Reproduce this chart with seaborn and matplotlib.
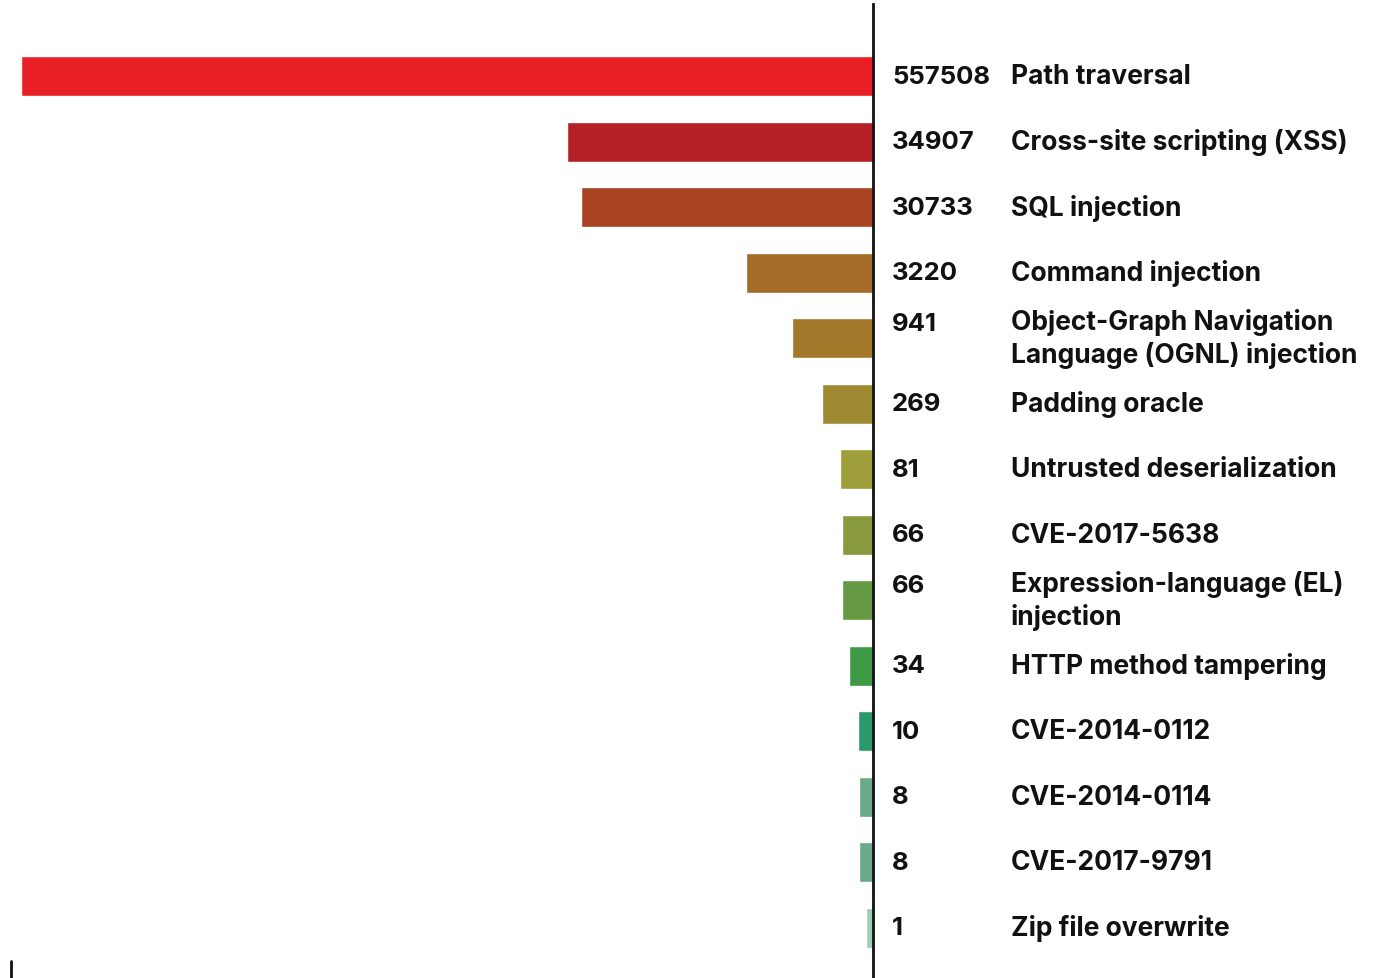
import numpy as np
import pandas as pd
import matplotlib
matplotlib.use("Agg")
import matplotlib.pyplot as plt
import matplotlib.transforms as mtransforms
from matplotlib.lines import Line2D
import seaborn as sns

attack_types = [
    "Path traversal",
    "Cross-site scripting (XSS)",
    "SQL injection",
    "Command injection",
    "Object-Graph Navigation\nLanguage (OGNL) injection",
    "Padding oracle",
    "Untrusted deserialization",
    "CVE-2017-5638",
    "Expression-language (EL)\ninjection",
    "HTTP method tampering",
    "CVE-2014-0112",
    "CVE-2014-0114",
    "CVE-2017-9791",
    "Zip file overwrite",
]
counts = [557508, 34907, 30733, 3220, 941, 269, 81, 66, 66, 34, 10, 8, 8, 1]
bar_colors = [
    "#E81F25", "#B51F26", "#A84324", "#A46B29", "#A3782B", "#A08A31", "#9E9E3A",
    "#89993D", "#659943", "#3E9A47", "#2A9A6A", "#6AAA8A", "#6AAA8A", "#9FCDB4",
]

df = pd.DataFrame({"attack": attack_types, "count": counts})

sns.set_theme(style="white")
plt.rcParams["font.family"] = ["Inter", "DejaVu Sans"]

W, H = 1379, 979
fig = plt.figure(figsize=(W / 100, H / 100), dpi=100)
ax = fig.add_axes([21 / W, 0, (872.5 - 21) / W, 974 / H])

sns.barplot(data=df, x="count", y="attack", hue="attack", palette=bar_colors,
            orient="h", width=0.61, legend=False, ax=ax, saturation=1)

# bar lengths in the original are compressed, roughly a power scale
p = 0.37
ax.set_xscale("function", functions=(lambda v: np.sign(v) * np.abs(v) ** p,
                                     lambda t: np.sign(t) * np.abs(t) ** (1 / p)))
ax.set_xlim(max(counts), 0)
ax.set_ylim(13.77, -1.1)

for s in ["left", "top", "bottom"]:
    ax.spines[s].set_visible(False)
ax.spines["right"].set_color("#111111")
ax.spines["right"].set_linewidth(2)
ax.set_xticks([])
ax.set_yticks([])
ax.set_xlabel("")
ax.set_ylabel("")

trans = mtransforms.blended_transform_factory(fig.transFigure, ax.transData)
for i, (name, cnt) in enumerate(zip(attack_types, counts)):
    num = str(cnt) + ("\n " if "\n" in name else "")
    ax.text(892 / W, i, num, transform=trans, ha="left", va="center",
            fontsize=18.5, fontweight="bold", color="#111111", linespacing=1.3)
    ax.text(1011 / W, i, name, transform=trans, ha="left", va="center",
            fontsize=19, fontweight="bold", color="#111111", linespacing=1.3)

fig.add_artist(Line2D([11 / W, 11 / W], [0, 17 / H], color="#111111", lw=2))

fig.savefig("out.png", dpi=100)
